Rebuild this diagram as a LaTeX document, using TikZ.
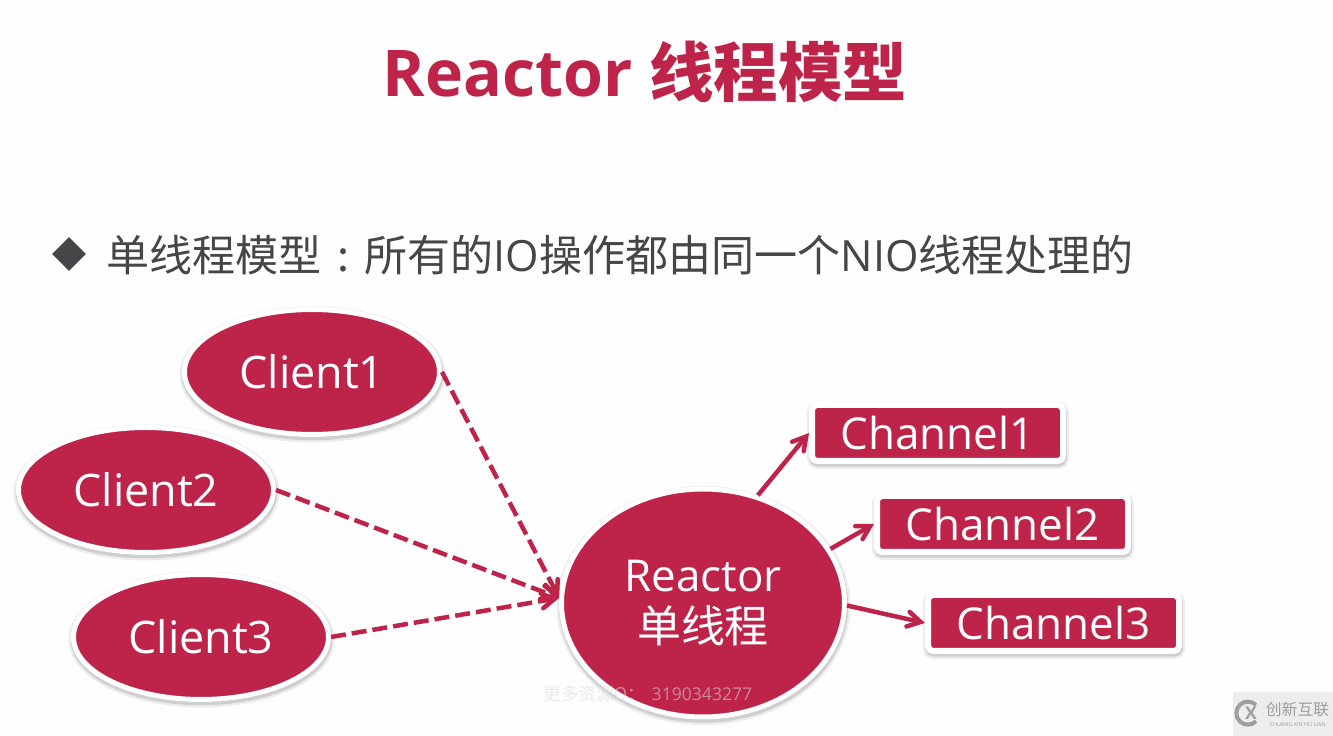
\documentclass[tikz,border=0pt]{standalone}
\usepackage{fontspec}
\setmainfont{Open Sans}
\newfontfamily\cjk{Noto Sans CJK SC}
\usetikzlibrary{shapes,arrows,positioning,calc,shadows}
\definecolor{slidered}{RGB}{190,36,74}
\definecolor{slidegrey}{RGB}{70,70,72}
\definecolor{logogrey}{RGB}{158,158,158}
\tikzset{
	softshadow/.style={
		drop shadow={shadow xshift=0.01cm,shadow yshift=-0.05cm,opacity=0.07,fill=black,draw=black,line width=0.22cm},
		drop shadow={shadow xshift=0.01cm,shadow yshift=-0.05cm,opacity=0.12,fill=black,draw=black,line width=0.13cm}},
	clientnode/.style={ellipse,fill=slidered,draw=white,line width=0.1cm,softshadow,text=white,inner sep=0pt,minimum width=5.1cm,minimum height=2.5cm,font=\fontsize{25.5}{30}\selectfont},
	reactornode/.style={clientnode,minimum width=5.66cm,minimum height=4.56cm,align=center,font=\fontsize{25}{29.5}\selectfont},
	channelnode/.style={rectangle,rounded corners=0.1cm,fill=slidered,draw=white,line width=0.12cm,softshadow,text=white,inner sep=0pt,minimum width=5.02cm,minimum height=1.12cm,font=\fontsize{25}{29}\selectfont},
	dashlink/.style={->,>=angle 60,draw=slidered,line width=0.09cm,dash pattern=on 0.3cm off 0.12cm},
	solidlink/.style={->,>=angle 60,draw=slidered,line width=0.09cm},
}
\begin{document}
\begin{tikzpicture}
	\fill[black!0.5] (0,0) rectangle (26.66,14.72);

	% Headings
	\node[text=slidered,font=\fontsize{36.7}{40}\selectfont\bfseries] (title) at (12.9,13.28) {Reactor {\cjk 线程模型}};
	\node[diamond,fill=slidegrey,inner sep=0pt,minimum width=0.68cm,minimum height=0.68cm] (bullet) at (1.38,9.64) {};
	\node[anchor=west,inner sep=0pt,text=slidegrey,font=\fontsize{24.5}{30}\selectfont] (heading) at (2.12,9.62) {{\cjk 单线程模型\makebox[1em]{:}所有的}IO{\cjk 操作都由同一个}NIO{\cjk 线程处理的}};

	% Clients
	\node[clientnode] (client1) at (6.24,7.28) {Client1};
	\node[clientnode] (client2) at (2.92,4.92) {Client2};
	\node[clientnode] (client3) at (4.02,1.98) {Client3};

	% Reactor
	\node[reactornode] (reactor) at (14.06,2.66) {Reactor\\{\cjk 单线程}};
	\node[text=black!15,opacity=0.55,font=\fontsize{10}{12}\selectfont] (mark) at (12.96,0.82) {{\cjk 更多资源Q：}\hspace{0.4em}3190343277};

	% Channels
	\node[channelnode] (channel1) at (18.75,6.06) {Channel1};
	\node[channelnode] (channel2) at (20.05,4.24) {Channel2};
	\node[channelnode] (channel3) at (21.07,2.26) {Channel3};

	% Links
	\draw[dashlink] (client1.east) -- (reactor.178);
	\draw[dashlink] (client2.east) -- (reactor.178);
	\draw[dashlink] (client3.east) -- (reactor.178);
	\draw[solidlink] (reactor.63) -- (channel1.west);
	\draw[solidlink] (reactor.23) -- (channel2.west);
	\draw[solidlink] (reactor.-1) -- (channel3.west);

	% Logo
	\node[fill=black!7,inner sep=0pt,minimum width=2cm,minimum height=0.88cm] (logo) at (25.66,0.44) {};
	\draw[logogrey,line width=0.08cm] (25.12,0.62) arc (45:315:0.23);
	\node[text=logogrey,font=\bfseries\fontsize{10}{10}\selectfont,inner sep=0pt] (logox) at (25.02,0.46) {X};
	\node[text=logogrey,font=\cjk\fontsize{9}{9}\selectfont,inner sep=0pt] (logotext) at (25.95,0.52) {创新互联};
	\node[text=logogrey,font=\fontsize{3.1}{4}\selectfont,inner sep=0pt] (logosub) at (25.95,0.22) {CHUANG XIN HU LIAN};
\end{tikzpicture}
\end{document}
